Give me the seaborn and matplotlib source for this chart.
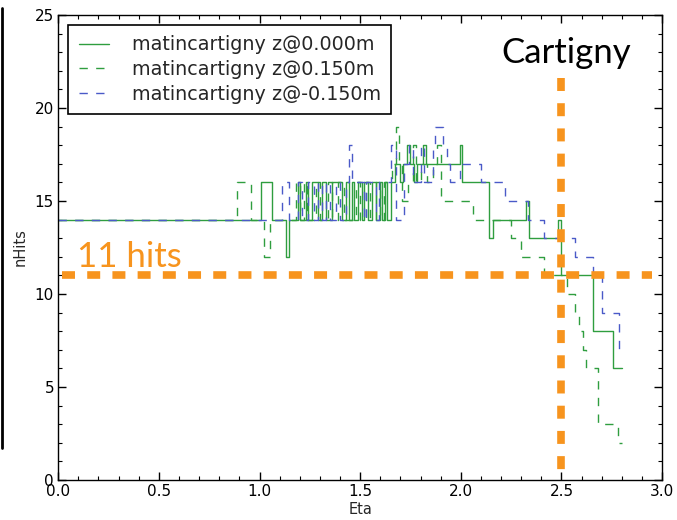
import matplotlib
matplotlib.use('Agg')
import matplotlib.pyplot as plt
from matplotlib.lines import Line2D
from matplotlib.ticker import MultipleLocator
import pandas as pd
import seaborn as sns

# nHits vs Eta, step values: nhits holds from eta[i] until eta[i+1]
eta_z0 = [0.00, 1.005, 1.06, 1.13, 1.145, 1.19, 1.20, 1.23, 1.24, 1.26, 1.29, 1.31, 1.33,
          1.36, 1.41, 1.43, 1.445, 1.46, 1.47, 1.49, 1.51, 1.52, 1.54, 1.56, 1.58, 1.60,
          1.61, 1.625, 1.635, 1.655, 1.675, 1.70, 1.715, 1.735, 1.75, 1.765, 1.78, 1.81,
          1.825, 1.995, 2.005, 2.14, 2.16, 2.325, 2.34, 2.485, 2.50, 2.655, 2.755, 2.80]
hits_z0 = [14, 16, 14, 12, 14, 16, 14, 16, 14, 16, 14, 16, 14,
           16, 14, 16, 14, 16, 14, 16, 14, 16, 14, 16, 14, 16,
           14, 16, 14, 16, 17, 16, 17, 18, 17, 16, 17, 18,
           17, 18, 16, 13, 14, 15, 13, 14, 11, 8, 6, 6]

eta_zp = [0.00, 0.89, 0.96, 1.02, 1.05, 1.18, 1.20, 1.22, 1.235, 1.28, 1.30, 1.34, 1.36,
          1.39, 1.42, 1.48, 1.50, 1.53, 1.55, 1.58, 1.60, 1.62, 1.66, 1.68, 1.695, 1.71,
          1.74, 1.76, 1.775, 1.80, 1.83, 1.86, 1.88, 1.90, 2.06, 2.25, 2.30, 2.415, 2.44,
          2.53, 2.565, 2.585, 2.605, 2.62, 2.68, 2.78, 2.80]
hits_zp = [14, 16, 14, 12, 14, 16, 14, 16, 14, 16, 14, 16, 14,
           16, 14, 16, 14, 16, 14, 16, 14, 16, 17, 19, 17, 15,
           16, 18, 16, 17, 16, 17, 18, 15, 14, 13, 12, 11, 11,
           10, 9, 8, 7, 6, 3, 2, 2]

eta_zm = [0.00, 1.11, 1.145, 1.19, 1.21, 1.24, 1.27, 1.29, 1.31, 1.33, 1.35, 1.38, 1.40,
          1.43, 1.445, 1.46, 1.52, 1.53, 1.58, 1.595, 1.655, 1.68, 1.72, 1.745, 1.76,
          1.80, 1.815, 1.86, 1.87, 1.91, 1.93, 1.945, 1.995, 2.10, 2.22, 2.335, 2.415,
          2.565, 2.655, 2.70, 2.785, 2.80]
hits_zm = [14, 16, 14, 16, 14, 16, 14, 16, 14, 16, 14, 16, 14,
           16, 18, 16, 14, 16, 14, 16, 18, 14, 17, 18, 16,
           18, 16, 18, 19, 18, 17, 16, 17, 16, 15, 14, 13,
           12, 11, 9, 7, 7]

labels = ['matincartigny z@0.000m', 'matincartigny z@0.150m', 'matincartigny z@-0.150m']
hit_cut = 11
eta_cut = 2.5

green = '#2f9e3f'
blue = '#4a5ac8'
orange = '#f7941e'

sns.set_theme(style='white', rc={
    'xtick.direction': 'in', 'ytick.direction': 'in',
    'xtick.top': True, 'ytick.right': True,
    'xtick.bottom': True, 'ytick.left': True,
    'axes.edgecolor': 'black', 'axes.linewidth': 1.0,
})
plt.rcParams['font.family'] = ['DejaVu Sans']

fig, ax = plt.subplots(figsize=(6.77, 5.2), dpi=100)
fig.subplots_adjust(left=0.086, right=0.978, bottom=0.077, top=0.971)

series = [(eta_z0, hits_z0, green, '-'),
          (eta_zp, hits_zp, green, (0, (6, 6))),
          (eta_zm, hits_zm, blue, (0, (6, 6)))]
for (x, y, c, ls), lab in zip(series, labels):
    df = pd.DataFrame({'Eta': x, 'nHits': y})
    sns.lineplot(data=df, x='Eta', y='nHits', ax=ax, color=c, linestyle=ls,
                 linewidth=1.0, drawstyle='steps-post', estimator=None, label=lab)

# cut lines
ax.plot([0.02, 2.95], [hit_cut, hit_cut], color=orange, lw=5.5, dashes=(1.7, 1.6),
        dash_capstyle='butt')
ax.plot([eta_cut, eta_cut], [21.6, 0], color=orange, lw=5.5, dashes=(1.7, 1.6),
        dash_capstyle='butt')

ax.text(0.095, 11.45, '11 hits', color=orange, fontsize=25, family='Lato')
ax.text(2.2, 22.4, 'Cartigny', color='black', fontsize=25, family='Lato')

ax.set_xlim(0, 3)
ax.set_ylim(0, 25)
ax.xaxis.set_major_locator(MultipleLocator(0.5))
ax.xaxis.set_minor_locator(MultipleLocator(0.1))
ax.yaxis.set_major_locator(MultipleLocator(5))
ax.yaxis.set_minor_locator(MultipleLocator(1))
ax.tick_params(which='major', length=5.5, width=1, labelsize=11, colors='black', pad=3)
ax.tick_params(which='minor', length=2.8, width=0.8, colors='black')
ax.set_xlabel('Eta', fontsize=10.5, labelpad=2)
ax.set_ylabel('nHits', fontsize=10.5, labelpad=5)

leg = ax.legend(loc='upper left', bbox_to_anchor=(0.017, 0.979), borderaxespad=0,
                fontsize=13.8, handlelength=1.55, handletextpad=1.2, labelspacing=0.3,
                borderpad=0.55, fancybox=False, edgecolor='black', framealpha=1)
leg.get_frame().set_linewidth(1.2)

# edge of the slide at the far left
fig.add_artist(Line2D([0.003, 0.003], [1 - 8 / 520, 1 - 448 / 520],
                      transform=fig.transFigure, color='black', lw=2))

fig.savefig('out.png', dpi=100)
